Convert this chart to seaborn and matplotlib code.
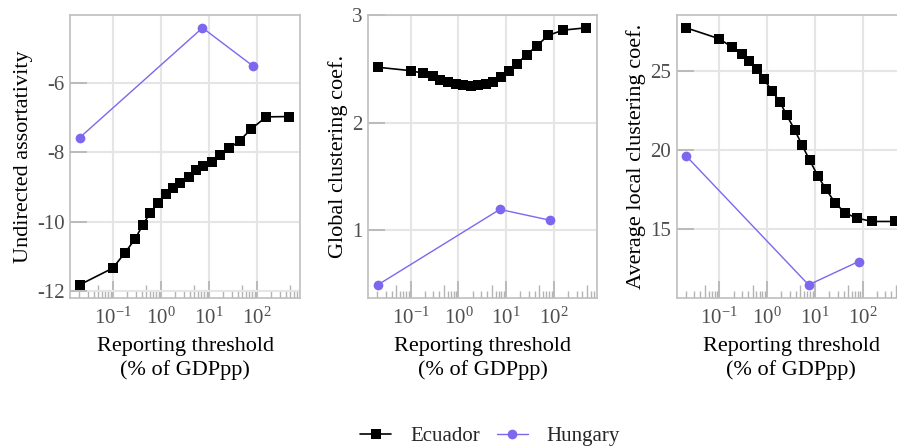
import numpy as np
import pandas as pd
import matplotlib
matplotlib.use("Agg")
import matplotlib.pyplot as plt
import matplotlib.ticker as mticker
import seaborn as sns

# ---------------- data ----------------
x_ecuador = [0.0204, 0.1, 0.182, 0.295, 0.417, 0.603, 0.871, 1.27, 1.84, 2.57,
             3.8, 5.37, 7.76, 11.5, 17.0, 26.9, 43.7, 75.9, 158, 468]
x_hungary = [0.0204, 7.4, 82.0]

assort_ecuador = [-11.81, -11.33, -10.88, -10.48, -10.10, -9.74, -9.45, -9.21, -9.02, -8.88,
                  -8.72, -8.50, -8.38, -8.28, -8.09, -7.88, -7.67, -7.33, -6.98, -6.97]
assort_hungary = [-7.58, -4.42, -5.51]

gcc_ecuador = [2.516, 2.484, 2.46, 2.43, 2.40, 2.377, 2.358, 2.347, 2.344, 2.347,
               2.36, 2.382, 2.423, 2.48, 2.55, 2.632, 2.713, 2.812, 2.861, 2.882]
gcc_hungary = [0.494, 1.195, 1.095]

lcc_ecuador = [27.71, 27.02, 26.51, 26.05, 25.63, 25.09, 24.46, 23.72, 23.05, 22.21,
               21.26, 20.32, 19.37, 18.37, 17.53, 16.64, 16.01, 15.70, 15.49, 15.49]
lcc_hungary = [19.62, 11.49, 12.96]

countries = ["Ecuador", "Hungary"]
metrics = ["Undirected assortativity", "Global clustering coef.", "Average local clustering coef."]
x_label = "Reporting threshold\n(% of GDPpp)"

df = pd.concat([
    pd.DataFrame({"country": "Ecuador", "threshold": x_ecuador,
                  metrics[0]: assort_ecuador, metrics[1]: gcc_ecuador, metrics[2]: lcc_ecuador}),
    pd.DataFrame({"country": "Hungary", "threshold": x_hungary,
                  metrics[0]: assort_hungary, metrics[1]: gcc_hungary, metrics[2]: lcc_hungary}),
], ignore_index=True)

# ---------------- style ----------------
sns.set_theme(style="white")
plt.rcParams["font.family"] = ["Liberation Serif", "DejaVu Serif"]
plt.rcParams["mathtext.fontset"] = "custom"
plt.rcParams["mathtext.rm"] = "Liberation Serif"
plt.rcParams["mathtext.it"] = "Liberation Serif:italic"
plt.rcParams["mathtext.bf"] = "Liberation Serif:bold"
plt.rcParams["axes.unicode_minus"] = False

colors = {"Ecuador": "#000000", "Hungary": "#7B68EE"}
markers = {"Ecuador": "s", "Hungary": "o"}
msizes = {"Ecuador": 6.8, "Hungary": 7.0}
lwidths = {"Ecuador": 1.2, "Hungary": 1.0}

spine_col = "#bfbfbf"
grid_col = "#e5e5e5"
tick_col = "#b3b3b3"
label_col = "#4d4d4d"

fig = plt.figure(figsize=(8.97, 4.48), dpi=100)
W, H = 897.0, 448.0
lefts = [70.0, 368.3, 676.7]
widths = [230.0, 228.4, 229.0]
top_px, bot_px = 15.0, 297.7
ylocs = [2, 1, 5]

axes = []
for i, metric in enumerate(metrics):
    ax = fig.add_axes([lefts[i] / W, 1 - bot_px / H, widths[i] / W, (bot_px - top_px) / H])
    axes.append(ax)
    for c in countries:
        sub = df[df["country"] == c]
        sns.lineplot(data=sub, x="threshold", y=metric, ax=ax, color=colors[c],
                     marker=markers[c], markersize=msizes[c], markeredgewidth=0,
                     linewidth=lwidths[c], errorbar=None, label=c, legend=False,
                     zorder=3)
    ax.set_xscale("log")
    ax.set_xlim(10 ** -1.89, 10 ** 2.9)
    ax.xaxis.set_major_locator(mticker.LogLocator(base=10, numticks=20))
    ax.xaxis.set_major_formatter(mticker.LogFormatterMathtext())
    ax.xaxis.set_minor_locator(mticker.LogLocator(base=10, subs=np.arange(2, 10), numticks=100))
    ax.xaxis.set_minor_formatter(mticker.NullFormatter())
    ax.yaxis.set_major_locator(mticker.MultipleLocator(ylocs[i]))
    ax.yaxis.set_minor_locator(mticker.NullLocator())

    ax.grid(True, which="major", color=grid_col, linewidth=1.5, zorder=0)
    ax.set_axisbelow(True)
    for s in ax.spines.values():
        s.set_color(spine_col)
        s.set_linewidth(1.2)
    ax.tick_params(axis="both", which="major", direction="in", length=12, width=1.2,
                   color=tick_col, labelsize=15, labelcolor=label_col, pad=4)
    ax.tick_params(axis="x", which="minor", direction="in", length=5, width=1.0,
                   color=tick_col, bottom=True)
    ax.tick_params(axis="x", which="major", pad=7)
    ax.tick_params(left=True, bottom=True, top=False, right=False)
    ax.set_xlabel(x_label, fontsize=16, color="black", linespacing=1.25, labelpad=6)
    ax.set_ylabel(metric, fontsize=16, color="black", labelpad=3)

    # taller minor tick at 5 x 10^k
    locs = ax.xaxis.get_minorticklocs()
    mticks = ax.xaxis.get_minor_ticks(len(locs))
    for t, loc in zip(mticks, locs):
        m = loc / 10 ** np.floor(np.log10(loc) + 1e-9)
        if abs(m - 5) < 0.01:
            t.tick1line.set_markersize(9.5)

handles = axes[0].get_lines()[:2]
fig.legend(handles, countries, loc="center", bbox_to_anchor=(490 / W, 1 - 436.5 / H),
           ncol=2, frameon=False, fontsize=15, handlelength=1.5, handletextpad=0.9,
           columnspacing=0.8)

fig.savefig("out.png", dpi=100)
